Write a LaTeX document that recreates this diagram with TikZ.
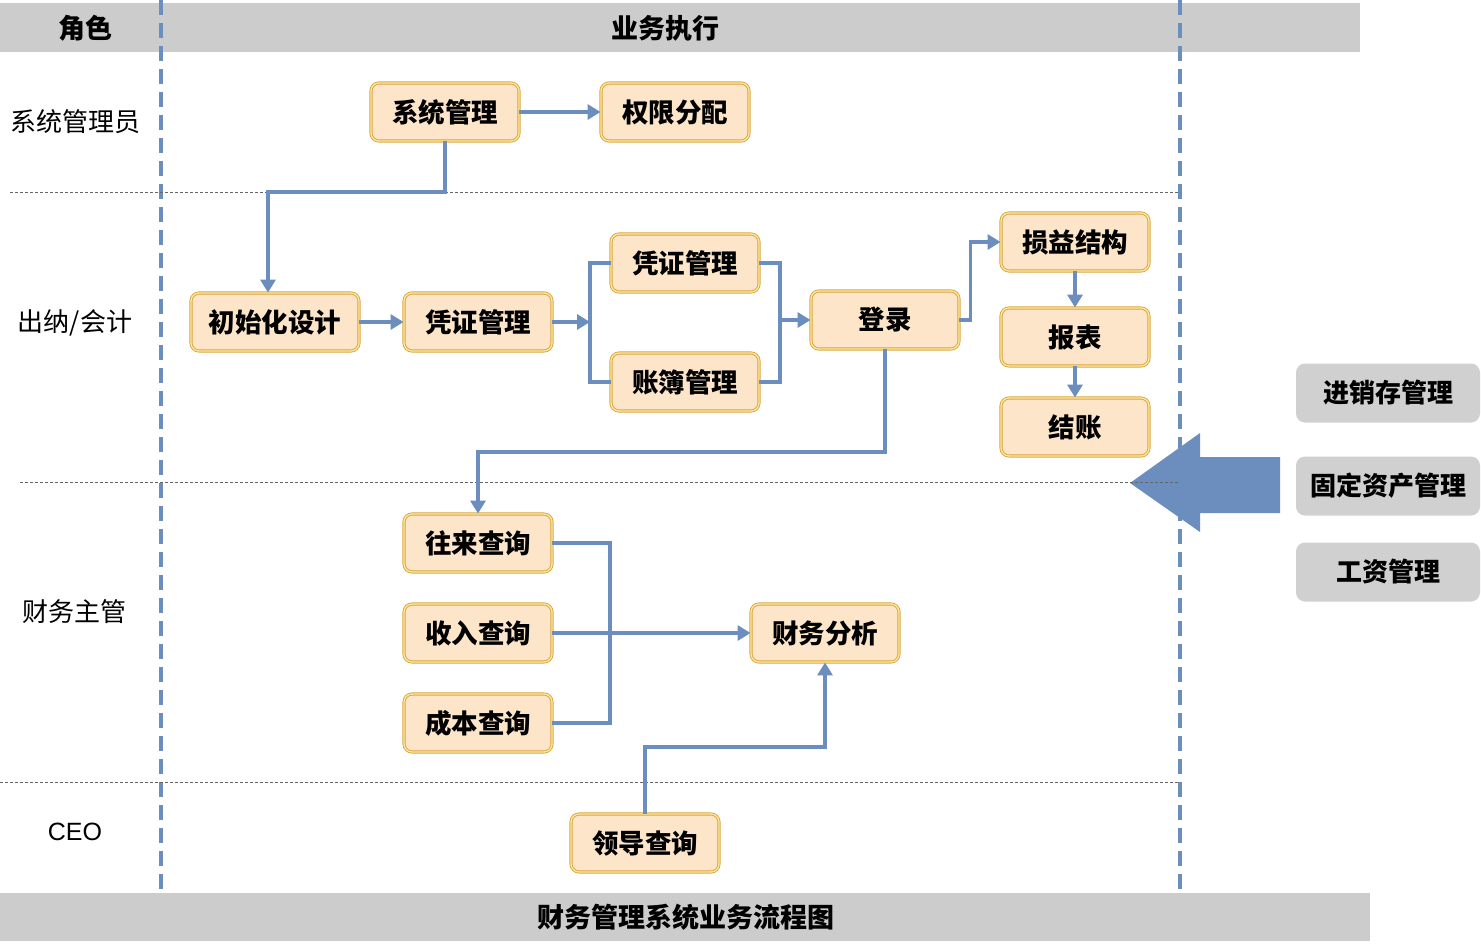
\documentclass[tikz,border=0pt]{standalone}
\usepackage{fontspec}
\setmainfont{Noto Sans CJK SC}
\newfontfamily\latinsans{Liberation Sans}
\usetikzlibrary{arrows.meta}
\definecolor{lineblue}{HTML}{6C8EBF}
\definecolor{boxfill}{HTML}{FDE5C9}
\definecolor{boxdraw}{HTML}{D9A640}
\definecolor{boxinner}{HTML}{FFE9A0}
\definecolor{bargray}{HTML}{CCCCCC}
\definecolor{sidegray}{HTML}{D0D0D0}
\tikzset{
  procbox/.style={draw=boxdraw, double=boxinner, double distance=1.3pt, line width=0.9pt,
    fill=boxfill, rounded corners=8pt, minimum width=148pt, minimum height=58pt,
    inner sep=0pt, font=\fontsize{26.5}{28}\selectfont\bfseries},
  sidebox/.style={fill=sidegray, rounded corners=9pt, minimum width=184pt, minimum height=59pt,
    inner sep=0pt, font=\fontsize{26}{28}\selectfont\bfseries},
  role/.style={font=\fontsize{26}{28}\selectfont},
  header/.style={font=\fontsize{27}{28}\selectfont\bfseries},
  conn/.style={draw=lineblue, line width=3.6pt},
  arr/.style={conn, -{Triangle[length=13pt,width=15pt]}},
  laneline/.style={draw=lineblue, line width=3.6pt, dash pattern=on 15pt off 8pt},
  sepline/.style={draw=black!60, line width=0.9pt, dash pattern=on 3pt off 2pt},
}
\begin{document}
\begin{tikzpicture}[x=1pt,y=-1pt]
\useasboundingbox (0,0) rectangle (1481,943);
% bars
\fill[bargray] (0,3) rectangle (1360,52);
\fill[bargray] (0,893) rectangle (1370,941);
\node[header] (hrole) at (85,28) {角色};
\node[header] (hexec) at (665,28) {业务执行};
\node[header] (title) at (686,917) {财务管理系统业务流程图};
% lanes
\draw[laneline] (161,0) -- (161,893);
\draw[laneline] (1180,0) -- (1180,893);
% big arrow
\fill[lineblue] (1130,483) -- (1200,433) -- (1200,457) -- (1280,457) -- (1280,513) -- (1200,513) -- (1200,532) -- cycle;
% separators
\draw[sepline] (10,192) -- (1180,192);
\draw[sepline] (20,482) -- (1180,482);
\draw[sepline] (0,782) -- (1180,782);
% roles
\node[role] (r1) at (75,122) {系统管理员};
\node[role] (r2) at (75,323) {出纳/会计};
\node[role] (r3) at (75,612) {财务主管};
\node[role, font=\fontsize{25}{28}\selectfont\latinsans] (r4) at (75,832) {CEO};
% process boxes
\node[procbox] (sys) at (445,112) {系统管理};
\node[procbox] (perm) at (675,112) {权限分配};
\node[procbox, minimum width=168pt] (init) at (275,322) {初始化设计};
\node[procbox] (v1) at (478,322) {凭证管理};
\node[procbox] (v2) at (685,263) {凭证管理};
\node[procbox] (ledger) at (685,382) {账簿管理};
\node[procbox] (login) at (885,320) {登录};
\node[procbox] (pl) at (1075,242) {损益结构};
\node[procbox] (rep) at (1075,337) {报表};
\node[procbox] (close) at (1075,427) {结账};
\node[procbox] (wl) at (478,543) {往来查询};
\node[procbox] (sr) at (478,633) {收入查询};
\node[procbox] (cb) at (478,723) {成本查询};
\node[procbox] (cw) at (825,633) {财务分析};
\node[procbox] (ld) at (645,843) {领导查询};
% side boxes
\node[sidebox] (s1) at (1388,393) {进销存管理};
\node[sidebox] (s2) at (1388,486) {固定资产管理};
\node[sidebox] (s3) at (1388,572) {工资管理};
% connectors
\draw[arr] (sys.east) -- (perm.west);
\coordinate (c1) at (268,192);
\draw[arr] (sys.south) |- (c1) -- (c1 |- init.north);
\draw[arr] (init.east) -- (v1.west);
\coordinate (j1) at (590,322);
\draw[arr] (v1.east) -- (j1);
\draw[conn] (v2.west) -| (j1);
\draw[conn] (ledger.west) -| (j1);
\coordinate (j2) at (780,320);
\draw[conn] (v2.east) -| (j2);
\draw[conn] (ledger.east) -| (j2);
\draw[arr] (j2) -- (login.west);
\draw[arr] (login.east) -- ++(11,0) |- (pl.west);
\draw[arr] (pl.south) -- (rep.north);
\draw[arr] (rep.south) -- (close.north);
\coordinate (c2) at (478,452);
\draw[arr] (login.south) |- (c2) -- (wl.north);
\coordinate (j3) at (610,633);
\draw[conn] (wl.east) -| (j3);
\draw[conn] (cb.east) -| (j3);
\draw[arr] (sr.east) -- (cw.west);
\coordinate (c3) at (645,747);
\draw[arr] (ld.north) |- (cw.south |- c3) -- (cw.south);
\end{tikzpicture}
\end{document}
